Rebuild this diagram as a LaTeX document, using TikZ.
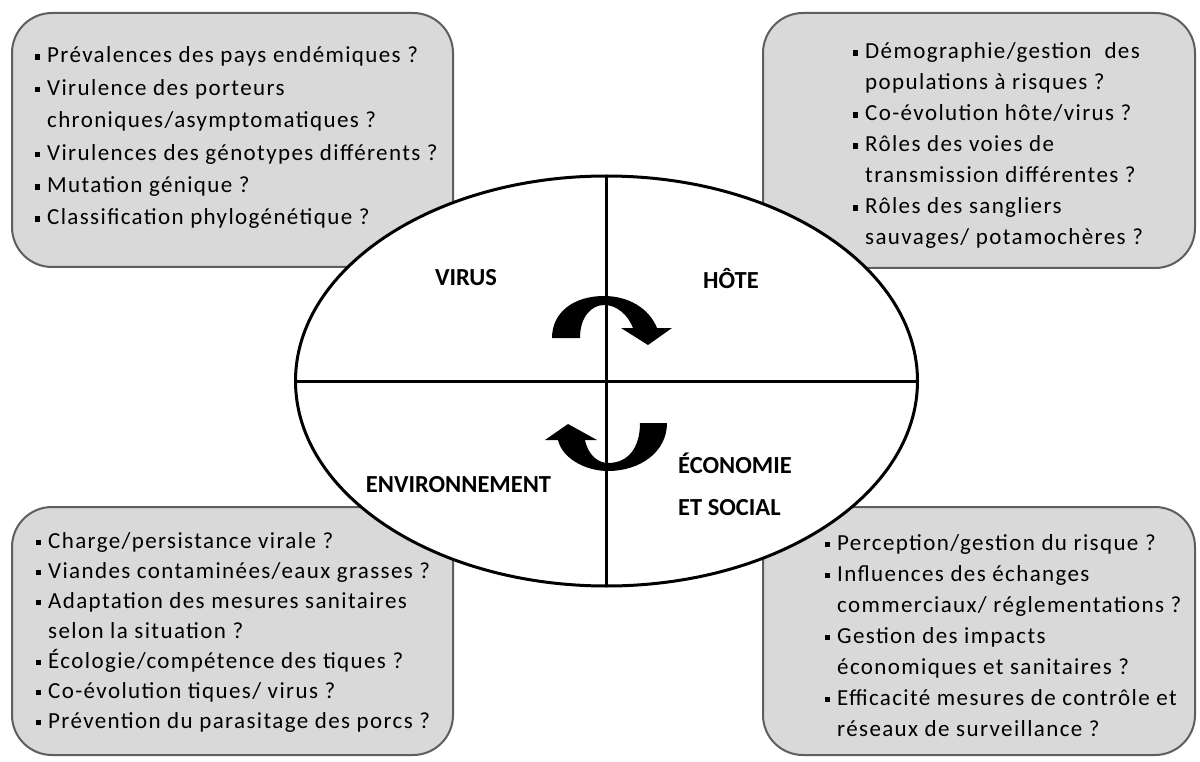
\documentclass[tikz,border=0pt]{standalone}
\usepackage{fontspec}
\setmainfont{Carlito}
\newfontfamily\qfont{Carlito}[LetterSpace=6]
\usetikzlibrary{shapes.geometric}
\definecolor{boxfill}{HTML}{D9D9D9}
\definecolor{boxline}{HTML}{5E5E5E}
\tikzset{
  qbox/.style={draw=boxline, line width=2pt, fill=boxfill, rounded corners=40pt,
    anchor=north west, inner sep=0pt, outer sep=0pt},
  qtext/.style={anchor=base west, inner sep=0pt, font=\qfont\fontsize{23}{28}\selectfont},
  tag/.style={inner sep=0pt, font=\bfseries\fontsize{24.5}{30}\selectfont},
  blade/.style={fill=black, draw=none},
}
% small square bullet hanging to the left of the text
\newcommand\bul{\makebox[0pt][r]{\rule[3pt]{5.5pt}{5.5pt}\hspace{7pt}}}
\newcommand\qline[4]{\node[qtext] (#1) at (#2,#3) {#4};}
\begin{document}
\begin{tikzpicture}[x=1pt,y=-1pt]
\useasboundingbox (0,0) rectangle (1200,762);
\fill[white] (0,0) rectangle (1200,762);

% four question boxes
\node[qbox, minimum width=441pt, minimum height=254pt] (vbox) at (12,13) {};
\node[qbox, minimum width=432pt, minimum height=255pt] (hbox) at (763,13) {};
\node[qbox, minimum width=441pt, minimum height=248pt] (ebox) at (12,507) {};
\node[qbox, minimum width=432pt, minimum height=248pt] (sbox) at (763,507) {};

% virus
\qline{v1}{47}{63}{\bul Prévalences des pays endémiques ?}
\qline{v2}{47}{95.4}{\bul Virulence des porteurs}
\qline{v3}{47}{127.8}{chroniques/asymptomatiques ?}
\qline{v4}{47}{160.2}{\bul Virulences des génotypes différents ?}
\qline{v5}{47}{192.6}{\bul Mutation génique ?}
\qline{v6}{47}{225}{\bul Classification phylogénétique ?}

% host
\qline{h1}{865}{59}{\bul Démographie/gestion\ \ des}
\qline{h2}{865}{90}{populations à risques ?}
\qline{h3}{865}{121}{\bul Co-évolution hôte/virus ?}
\qline{h4}{865}{152}{\bul Rôles des voies de}
\qline{h5}{865}{183}{transmission différentes ?}
\qline{h6}{865}{214}{\bul Rôles des sangliers}
\qline{h7}{865}{245}{sauvages/ potamochères ?}

% environment
\qline{e1}{48}{548}{\bul Charge/persistance virale ?}
\qline{e2}{48}{578}{\bul Viandes contaminées/eaux grasses ?}
\qline{e3}{48}{608}{\bul Adaptation des mesures sanitaires}
\qline{e4}{48}{638}{selon la situation ?}
\qline{e5}{48}{668}{\bul Écologie/compétence des tiques ?}
\qline{e6}{48}{698}{\bul Co-évolution tiques/ virus ?}
\qline{e7}{48}{728}{\bul Prévention du parasitage des porcs ?}

% economy and society
\qline{s1}{837}{550}{\bul Perception/gestion du risque ?}
\qline{s2}{837}{581}{\bul Influences des échanges}
\qline{s3}{837}{612}{commerciaux/ réglementations ?}
\qline{s4}{837}{643}{\bul Gestion des impacts}
\qline{s5}{837}{674}{économiques et sanitaires ?}
\qline{s6}{837}{705}{\bul Efficacité mesures de contrôle et}
\qline{s7}{837}{736}{réseaux de surveillance ?}

% central ellipse split in four
\node[ellipse, draw, line width=3pt, fill=white, minimum width=622pt,
  minimum height=410pt, inner sep=0pt, outer sep=0pt] (core) at (606.5,381) {};
\draw[line width=3pt] (core.north) -- (core.south);
\draw[line width=3pt] (core.west) -- (core.east);

% quadrant titles
\node[tag, anchor=base] (tvirus) at (466,286) {VIRUS};
\node[tag, anchor=base] (thote) at (731,288) {HÔTE};
\node[tag, anchor=base] (tenv) at (458.5,492) {ENVIRONNEMENT};
\node[tag, anchor=base west] (teco) at (678,473) {ÉCONOMIE};
\node[tag, anchor=base west] (tsoc) at (678,515) {ET SOCIAL};

% upper curved arrow (left to right)
\fill[blade] (552,338) -- (580,338)
  .. controls (580,316) and (592,305) .. (604,305)
  .. controls (617,305) and (628,315) .. (633,328)
  -- (621,328) -- (648,345) -- (672,328) -- (657,328)
  .. controls (649,308) and (628,296) .. (604,296)
  .. controls (574,296) and (552,312) .. (552,338) -- cycle;

% lower curved arrow (right to left)
\fill[blade] (640,423) -- (667,423)
  .. controls (667,452) and (640,471) .. (608,471)
  .. controls (585,471) and (562,458) .. (558,440)
  -- (545,440) -- (568,424) -- (597,440) -- (585,440)
  .. controls (588,455) and (598,463) .. (608,463)
  .. controls (628,463) and (640,448) .. (640,423) -- cycle;
\end{tikzpicture}
\end{document}
